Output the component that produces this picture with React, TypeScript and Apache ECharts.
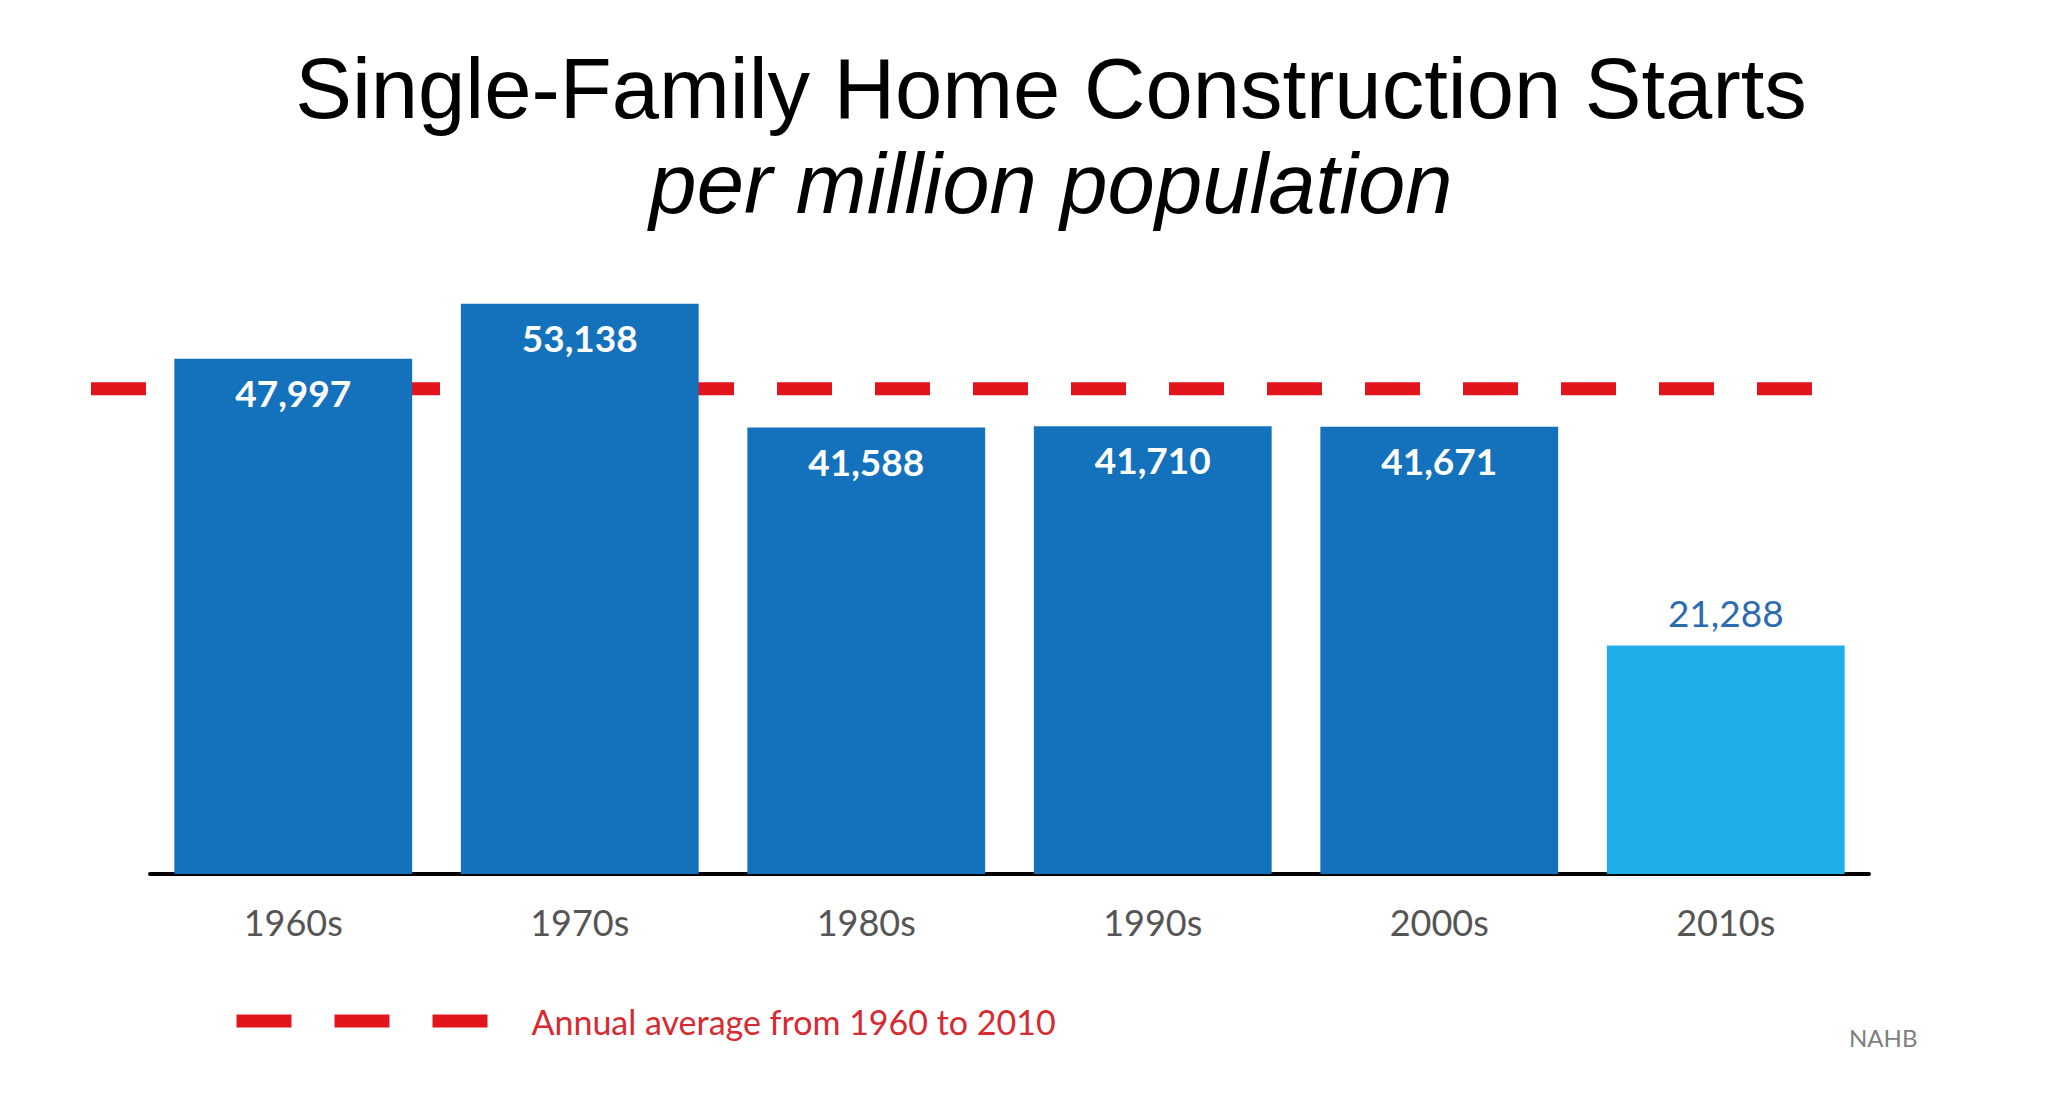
import React, { useEffect, useRef } from "react";
import * as echarts from "echarts";

// ---- data ----
const CATEGORIES: string[] = ["1960s", "1970s", "1980s", "1990s", "2000s", "2010s"];
const STARTS: number[] = [47997, 53138, 41588, 41710, 41671, 21288];
const HIGHLIGHT_CATEGORY = "2010s";
const AVERAGE = 45221;
const AVERAGE_SPAN: number[] = [0, 1];
const Y_MAX = 60000;

const TITLE = "Single-Family Home Construction Starts";
const SUBTITLE = "per million population";
const LEGEND_LABEL = "Annual average from 1960 to 2010";
const SOURCE = "NAHB";

// ---- styles ----
const DARK_BLUE = "#1471BC";
const LIGHT_BLUE = "#20AEE8";
const RED = "#E3151C";
const LEGEND_RED = "#D72A30";
const LABEL_FONT = "Lato";
const TITLE_FONT = "'Liberation Sans', Arial, Helvetica, sans-serif";

export default function App() {
  const ref = useRef<HTMLDivElement>(null);

  useEffect(() => {
    document.body.style.margin = "0";
    if (!ref.current) return;
    const chart = echarts.init(ref.current, undefined, { renderer: "svg" });

    const fmt = (v: number) => v.toLocaleString("en-US");

    const option: any = {
      animation: false,
      backgroundColor: "#ffffff",
      grid: [
        { left: 150, right: 201, top: 230, bottom: 220 },
        { left: 91, right: 258, top: 230, bottom: 220 },
      ],
      xAxis: [
        {
          type: "category",
          gridIndex: 0,
          data: CATEGORIES,
          axisLine: { show: true, lineStyle: { color: "#000000", width: 4 } },
          axisTick: { show: false },
          axisLabel: {
            color: "#555555",
            fontFamily: LABEL_FONT,
            fontSize: 36,
            margin: 30,
          },
        },
        { type: "value", gridIndex: 1, min: 0, max: 1, show: false },
      ],
      yAxis: [
        { type: "value", gridIndex: 0, min: 0, max: Y_MAX, show: false },
        { type: "value", gridIndex: 1, min: 0, max: Y_MAX, show: false },
      ],
      legend: {
        data: [LEGEND_LABEL],
        left: 230,
        top: 1004,
        padding: 0,
        itemWidth: 290,
        itemHeight: 20,
        selectedMode: false,
        lineStyle: { color: RED, width: 13, type: [55, 43] },
        itemStyle: { color: "rgba(0,0,0,0)", borderColor: "rgba(0,0,0,0)", borderWidth: 0 },
        textStyle: { color: LEGEND_RED, fontFamily: LABEL_FONT, fontSize: 34 },
      },
      series: [
        {
          type: "line",
          name: LEGEND_LABEL,
          xAxisIndex: 1,
          yAxisIndex: 1,
          data: AVERAGE_SPAN.map((x) => [x, AVERAGE]),
          symbol: "none",
          silent: true,
          z: 1,
          lineStyle: { color: RED, width: 13, type: [55, 43], cap: "butt" },
          itemStyle: { color: RED },
        },
        {
          type: "bar",
          name: "Starts",
          xAxisIndex: 0,
          yAxisIndex: 0,
          z: 3,
          barCategoryGap: "17%",
          itemStyle: { color: DARK_BLUE },
          label: {
            show: true,
            position: "insideTop",
            distance: 15,
            color: "#ffffff",
            fontFamily: LABEL_FONT,
            fontWeight: "bold",
            fontSize: 37,
            formatter: (p: any) => fmt(p.value),
          },
          data: STARTS.map((v, i) =>
            CATEGORIES[i] === HIGHLIGHT_CATEGORY
              ? {
                  value: v,
                  itemStyle: { color: LIGHT_BLUE },
                  label: { position: "top", distance: 15, color: "#2B6BAE", fontWeight: "normal" },
                }
              : { value: v }
          ),
        },
      ],
      graphic: [
        {
          type: "text",
          x: 1051,
          y: 88,
          style: {
            text: TITLE,
            fill: "#000000",
            font: `85px ${TITLE_FONT}`,
            textAlign: "center",
            textVerticalAlign: "middle",
          },
        },
        {
          type: "text",
          x: 1051,
          y: 183,
          style: {
            text: SUBTITLE,
            fill: "#000000",
            font: `italic 85px ${TITLE_FONT}`,
            textAlign: "center",
            textVerticalAlign: "middle",
          },
        },
        {
          type: "text",
          x: 1849,
          y: 1037,
          style: {
            text: SOURCE,
            fill: "#7F7F7F",
            font: `24px ${LABEL_FONT}`,
            textAlign: "left",
            textVerticalAlign: "middle",
          },
        },
      ],
    };

    chart.setOption(option);
    return () => chart.dispose();
  }, []);

  return <div ref={ref} style={{ width: 2070, height: 1094 }} />;
}
